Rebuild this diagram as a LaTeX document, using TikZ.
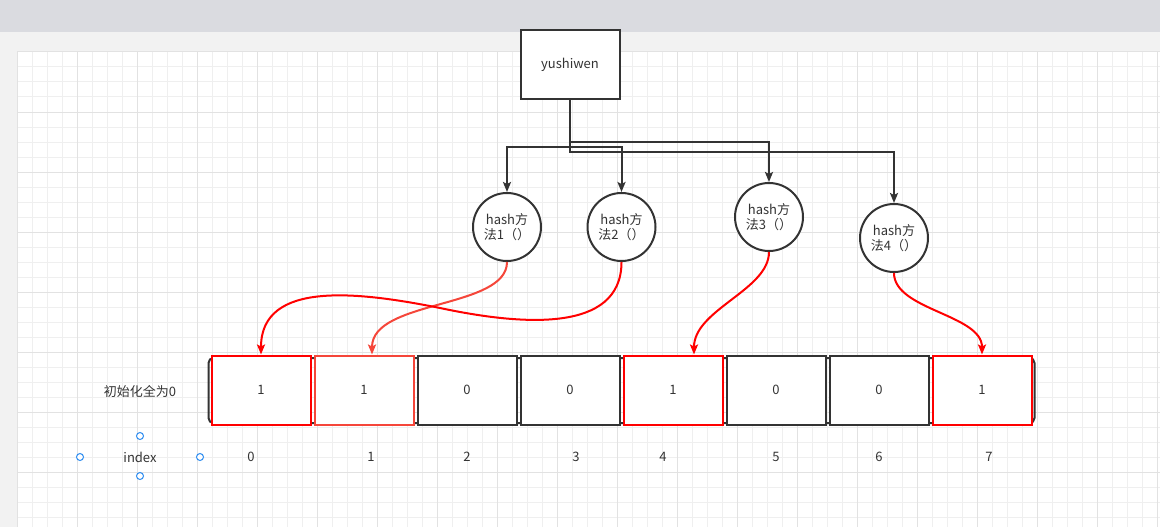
\documentclass[tikz,border=0pt]{standalone}
\usepackage{fontspec}
\setmainfont{Noto Sans CJK SC}
\usetikzlibrary{arrows.meta}
\definecolor{ink}{HTML}{333333}
\definecolor{hitred}{HTML}{FF0000}
\definecolor{softred}{HTML}{F5463A}
\definecolor{gridminor}{HTML}{EFEFEF}
\definecolor{gridmajor}{HTML}{E2E2E2}
\definecolor{topbar}{HTML}{DADBE0}
\definecolor{pagegray}{HTML}{F2F2F2}
\definecolor{handle}{HTML}{2D8CF0}
\tikzset{txt/.style={text=ink, font=\fontsize{13}{15.5}\selectfont}}
\tikzset{cell/.style={txt, draw=ink, line width=2pt, fill=white, minimum width=99pt, minimum height=69pt, inner sep=0pt}}
\tikzset{redcell/.style={cell, draw=hitred}}
\tikzset{hashfn/.style={txt, circle, draw=ink, line width=2pt, fill=white, minimum size=68pt, inner sep=0pt, align=center}}
\tikzset{feed/.style={draw=ink, line width=2pt, -{Stealth[length=10pt, width=8pt, inset=2pt]}}}
\tikzset{hit/.style={draw=hitred, line width=2pt, -{Stealth[length=10pt, width=8pt, inset=2pt]}}}
\tikzset{grab/.style={circle, draw=handle, line width=1pt, fill=white, minimum size=7pt, inner sep=0pt}}

\begin{document}
\begin{tikzpicture}[x=1pt, y=-1pt]
    \useasboundingbox (0,0) rectangle (1160,527);
    % canvas
    \fill[topbar] (0,0) rectangle (1160,32);
    \fill[pagegray] (0,32) rectangle (1160,527);
    \fill[white] (17,52) rectangle (1160,527);
    \foreach \x in {17,32,...,1160} \draw[gridminor, line width=1pt] (\x,52) -- (\x,527);
    \foreach \y in {52,67,...,527} \draw[gridminor, line width=1pt] (17,\y) -- (1160,\y);
    \foreach \x in {17,77,...,1160} \draw[gridmajor, line width=1pt] (\x,52) -- (\x,527);
    \foreach \y in {52,112,...,527} \draw[gridmajor, line width=1pt] (17,\y) -- (1160,\y);

    \node[cell] (top) at (570,64.5) {yushiwen};
    \node[hashfn] (h1) at (507,227) {hash方\\法1（）};
    \node[hashfn] (h2) at (621.5,227) {hash方\\法2（）};
    \node[hashfn] (h3) at (769,217) {hash方\\法3（）};
    \node[hashfn] (h4) at (894,238) {hash方\\法4（）};

    \draw[feed] (top.south) -- ++(0,47) -| (h1.north);
    \draw[feed] (top.south) -- ++(0,47) -| (h2.north);
    \draw[feed] (top.south) -- ++(0,42) -| (h3.north);
    \draw[feed] (top.south) -- ++(0,52) -| (h4.north);

    % bit array
    \node[draw=ink, line width=2pt, rounded corners=5pt, minimum width=826pt, minimum height=65pt] (arr) at (621.5,390.5) {};
    \node[redcell] (c0) at (261,390) {1};
    \node[cell, draw=softred] (c1) at (364,390) {1};
    \node[cell] (c2) at (467,390) {0};
    \node[cell] (c3) at (570,390) {0};
    \node[redcell] (c4) at (673,390) {1};
    \node[cell] (c5) at (776,390) {0};
    \node[cell] (c6) at (879,390) {0};
    \node[redcell] (c7) at (982,390) {1};

    \draw[hit, draw=softred] (h1.south) .. controls +(0,47) and +(0,-55) .. ([xshift=8pt]c1.north);
    \draw[hit] (h2.south) .. controls +(0,72) and (520,325) .. (440,308) .. controls (360,292) and +(0,-75) .. (c0.north);
    \draw[hit] (h3.south) .. controls +(0,38) and +(0,-45) .. ([xshift=21pt]c4.north);
    \draw[hit] (h4.south) .. controls +(0,37) and +(0,-40) .. (c7.north);

    \node[txt] (init) at (140,391) {初始化全为0};
    \node[txt] (index) at (140,457) {index};
    \node[grab] (gn) at (140,436) {};
    \node[grab] (gs) at (140,476) {};
    \node[grab] (gw) at (80,457) {};
    \node[grab] (ge) at (200,457) {};

    \node[txt] (i0) at (251,457) {0};
    \node[txt] (i1) at (371,457) {1};
    \node[txt] (i2) at (467,457) {2};
    \node[txt] (i3) at (576,457) {3};
    \node[txt] (i4) at (663,457) {4};
    \node[txt] (i5) at (776,457) {5};
    \node[txt] (i6) at (879,457) {6};
    \node[txt] (i7) at (989,457) {7};
\end{tikzpicture}
\end{document}
